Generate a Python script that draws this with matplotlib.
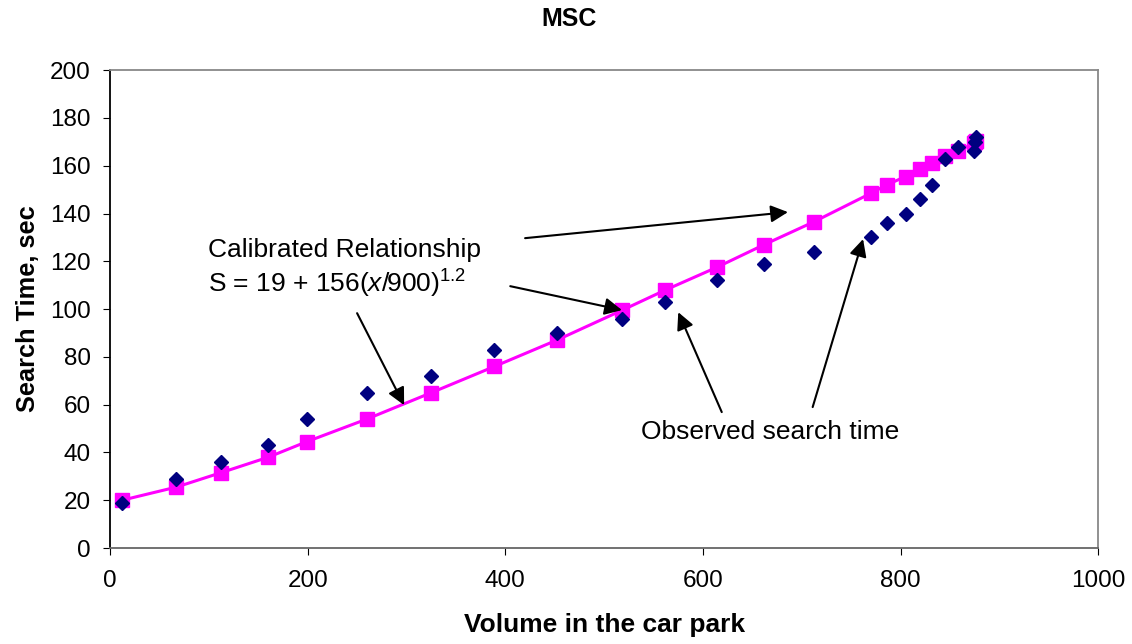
import matplotlib.pyplot as plt

plt.rcParams['font.family'] = ['Liberation Sans', 'DejaVu Sans']
plt.rcParams['mathtext.fontset'] = 'custom'
plt.rcParams['mathtext.rm'] = 'Liberation Sans'
plt.rcParams['mathtext.it'] = 'Liberation Sans:italic'

# car park volume (shared by both series)
volume = [12, 67, 112, 160, 199, 260, 325, 389, 452, 518, 562, 614,
          662, 712, 770, 786, 805, 820, 832, 845, 858, 874, 875, 876]
observed = [19, 29, 36, 43, 54, 65, 72, 83, 90, 96, 103, 112,
            119, 124, 130, 136, 140, 146, 152, 163, 168, 166, 170, 172]
calibrated = [20, 25.5, 31.5, 38, 44.5, 54, 65, 76, 87, 99.5, 108, 117.5,
              127, 136.5, 148.5, 152, 155.5, 158.5, 161, 164, 166, 169.5, 170, 170.5]

fig = plt.figure(figsize=(11.32, 6.44), dpi=100)
ax = fig.add_axes([0.0972, 0.149, 0.873, 0.742])

ax.plot(volume, calibrated, color='#ff00ff', lw=2.2, marker='s', markersize=10,
        markeredgecolor='#ff00ff', zorder=2)
ax.plot(volume, observed, linestyle='none', marker='D', markersize=7.3,
        color='#000080', zorder=3)

ax.set_xlim(0, 1000)
ax.set_ylim(0, 200)
ax.set_xticks(range(0, 1001, 200))
ax.set_yticks(range(0, 201, 20))
ax.tick_params(direction='out', length=5, labelsize=17.5)
ax.tick_params(axis='x', pad=11)
ax.tick_params(axis='y', pad=9)

ax.spines['left'].set_color('black')
ax.spines['bottom'].set_color('#666666')
ax.spines['top'].set_color('#888888')
ax.spines['right'].set_color('#888888')
for s in ax.spines.values():
    s.set_linewidth(1.3)

ax.set_xlabel('Volume in the car park', fontsize=19, fontweight='bold', labelpad=15)
ax.set_ylabel('Search Time, sec', fontsize=18.3, fontweight='bold', labelpad=7)
fig.text(0.503, 0.97, 'MSC', ha='center', va='center', fontsize=18, fontweight='bold')

# annotations
ax.text(99, 124.7, 'Calibrated Relationship', fontsize=19, va='center')
ax.text(99, 110.5, r'S = 19 + 156($\mathit{x}$/900)$^{1.2}$', fontsize=19, va='center')
ax.text(668, 48.5, 'Observed search time', fontsize=19, ha='center', va='center')

arrow = dict(arrowstyle='-|>', mutation_scale=26, lw=1.5, color='black',
             shrinkA=0, shrinkB=0)
for tip, start in [((686, 140.6), (420, 129.7)),
                   ((518, 99.6), (405, 109.6)),
                   ((297.6, 59.8), (250, 98.3)),
                   ((575, 98.7), (619, 56.9)),
                   ((762, 129.3), (711, 59))]:
    ax.annotate('', xy=tip, xytext=start, arrowprops=arrow)

fig.savefig('out.png', dpi=100)
